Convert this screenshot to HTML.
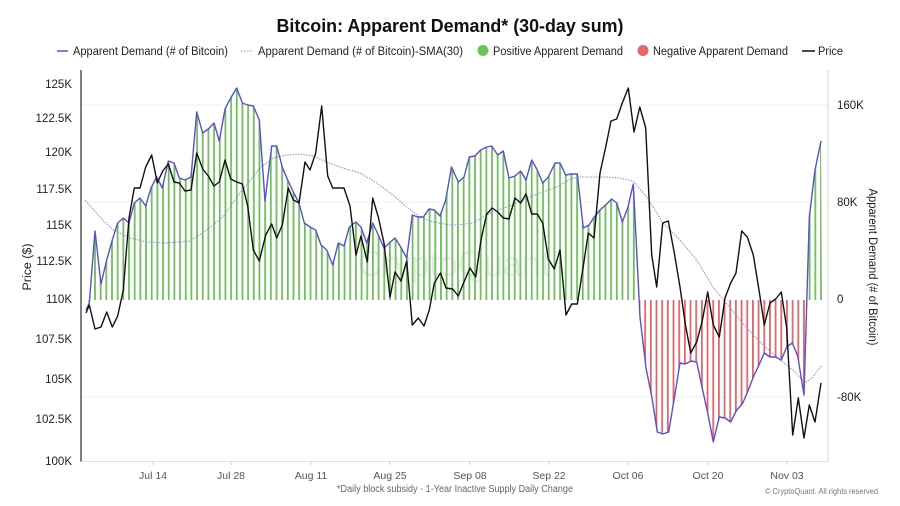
<!DOCTYPE html>
<html><head><meta charset="utf-8"><style>
html,body{margin:0;padding:0;background:#fff;}
svg{display:block;font-family:"Liberation Sans",Arial,sans-serif;}
</style></head><body>
<svg width="900" height="506" viewBox="0 0 900 506" xmlns="http://www.w3.org/2000/svg">
<defs>
<pattern id="pg" patternUnits="userSpaceOnUse" x="88.4" y="0" width="5.672" height="20"><rect x="0" y="0" width="1.8" height="20" fill="#6fbf5c"/></pattern>
<pattern id="pr" patternUnits="userSpaceOnUse" x="88.4" y="0" width="5.672" height="20"><rect x="0" y="0" width="1.8" height="20" fill="#e0676a"/></pattern>
<clipPath id="cpos"><rect x="80" y="60" width="750" height="240"/></clipPath>
<clipPath id="cneg"><rect x="80" y="300" width="750" height="170"/></clipPath>
</defs>
<rect width="900" height="506" fill="#fff"/>

<!-- Title -->
<text x="450" y="32" text-anchor="middle" font-size="18" font-weight="bold" fill="#111" textLength="347" lengthAdjust="spacingAndGlyphs">Bitcoin: Apparent Demand* (30-day sum)</text>

<!-- Legend -->
<g font-size="11.5" fill="#222">
<line x1="57" y1="51" x2="68" y2="51" stroke="#5a4fcf" stroke-width="1.5"/>
<text x="73" y="55" textLength="155" lengthAdjust="spacingAndGlyphs">Apparent Demand (# of Bitcoin)</text>
<line x1="241" y1="51" x2="253" y2="51" stroke="#8a86e0" stroke-width="1" stroke-dasharray="1.5 1.5"/>
<text x="258" y="55" textLength="205" lengthAdjust="spacingAndGlyphs">Apparent Demand (# of Bitcoin)-SMA(30)</text>
<circle cx="483" cy="50.5" r="5.5" fill="#6cc25a"/>
<text x="493" y="55" textLength="130" lengthAdjust="spacingAndGlyphs">Positive Apparent Demand</text>
<circle cx="643" cy="50.5" r="5.5" fill="#e46a6a"/>
<text x="653" y="55" textLength="135" lengthAdjust="spacingAndGlyphs">Negative Apparent Demand</text>
<line x1="802" y1="51" x2="815" y2="51" stroke="#111" stroke-width="1.5"/>
<text x="818" y="55" textLength="25" lengthAdjust="spacingAndGlyphs">Price</text>
</g>

<!-- Gridlines -->
<g stroke="#f1f1f1" stroke-width="1">
<line x1="82" y1="105" x2="828" y2="105"/>
<line x1="82" y1="202" x2="828" y2="202"/>
<line x1="82" y1="397" x2="828" y2="397"/>
</g>

<!-- Watermark -->
<text x="358" y="276" font-size="36" fill="#e9e9e9" textLength="192" lengthAdjust="spacingAndGlyphs">CryptoQuant</text>

<!-- Bars via pattern fill -->
<g id="areas">
<polygon clip-path="url(#cpos)" fill="url(#pg)" points="86,300 86,310 89.3,303 95,231 101,284 106.7,260 112.3,240 117.7,223 123.3,218 129,223 134.3,203 140,198 145.7,206 151,188 156.7,177 162.3,188 168.3,161 174,163 179.3,178 185,180 191,177 196.7,112 202.7,133 208.3,129 214,123 219.3,141 225,109 230.7,98 236.7,88 242.3,103 247.7,105 253.3,106 259.3,120 265,201 271.7,146 276.7,146 282.3,167 287.7,180 293.3,192 299,203 304.3,223 310,227 315.7,230 321,245 326.7,250 332.7,265 338.3,243 344,246 349.3,227 355.7,222 361,227 366.7,243 372.7,223 378.3,235 384,248 389.3,243 395,238 400.7,247 406.7,258 412.3,215 417.7,217 423.3,217 429,209 434.3,210 440,216 445.7,200 451.5,167 458.3,182 464,177 469.3,157 475,156 480.7,150 486.7,147 491.7,146 497.7,155 503.3,151 509,178 515,176 520.7,171 526,180 531.7,160 537.3,170 542.7,183 548.3,177 555,163 560,163 565.7,175 571,174 577.3,174 583.3,228 589,225 594.3,217 600,210 605.7,205 611.7,199 616.7,203 622.3,222 627.7,208 633.3,184 640,317 646,368 652,398 657.3,432 662.7,434 668.7,432 674,400 680,363 685.3,364 691,361 696.7,362 702,387 707.7,413 713.3,442 719.3,417 725,418 730.7,422 736.7,410 742.3,404 748,391 753.3,377 759,365 764.3,353 770,357 775.7,357 781.3,360 786.7,347 792.3,343 797.7,356 804,395 809.3,217 815,170 821,141 822,300"/>
<polygon clip-path="url(#cneg)" fill="url(#pr)" points="86,300 86,310 89.3,303 95,231 101,284 106.7,260 112.3,240 117.7,223 123.3,218 129,223 134.3,203 140,198 145.7,206 151,188 156.7,177 162.3,188 168.3,161 174,163 179.3,178 185,180 191,177 196.7,112 202.7,133 208.3,129 214,123 219.3,141 225,109 230.7,98 236.7,88 242.3,103 247.7,105 253.3,106 259.3,120 265,201 271.7,146 276.7,146 282.3,167 287.7,180 293.3,192 299,203 304.3,223 310,227 315.7,230 321,245 326.7,250 332.7,265 338.3,243 344,246 349.3,227 355.7,222 361,227 366.7,243 372.7,223 378.3,235 384,248 389.3,243 395,238 400.7,247 406.7,258 412.3,215 417.7,217 423.3,217 429,209 434.3,210 440,216 445.7,200 451.5,167 458.3,182 464,177 469.3,157 475,156 480.7,150 486.7,147 491.7,146 497.7,155 503.3,151 509,178 515,176 520.7,171 526,180 531.7,160 537.3,170 542.7,183 548.3,177 555,163 560,163 565.7,175 571,174 577.3,174 583.3,228 589,225 594.3,217 600,210 605.7,205 611.7,199 616.7,203 622.3,222 627.7,208 633.3,184 640,317 646,368 652,398 657.3,432 662.7,434 668.7,432 674,400 680,363 685.3,364 691,361 696.7,362 702,387 707.7,413 713.3,442 719.3,417 725,418 730.7,422 736.7,410 742.3,404 748,391 753.3,377 759,365 764.3,353 770,357 775.7,357 781.3,360 786.7,347 792.3,343 797.7,356 804,395 809.3,217 815,170 821,141 822,300"/>
</g>

<!-- Axes -->
<line x1="81" y1="70" x2="81" y2="462" stroke="#555" stroke-width="1.5"/>
<line x1="828" y1="70" x2="828" y2="462" stroke="#d4d4d4" stroke-width="1"/>
<line x1="81" y1="461.5" x2="828" y2="461.5" stroke="#e2e2e2" stroke-width="1"/>
<g stroke="#d0d0d0" stroke-width="1">
<line x1="153" y1="461" x2="153" y2="465"/>
<line x1="231" y1="461" x2="231" y2="465"/>
<line x1="311" y1="461" x2="311" y2="465"/>
<line x1="390" y1="461" x2="390" y2="465"/>
<line x1="470" y1="461" x2="470" y2="465"/>
<line x1="549" y1="461" x2="549" y2="465"/>
<line x1="628" y1="461" x2="628" y2="465"/>
<line x1="708" y1="461" x2="708" y2="465"/>
<line x1="787" y1="461" x2="787" y2="465"/>
</g>

<!-- SMA -->
<polyline fill="none" stroke="#8a86e0" stroke-width="1" stroke-dasharray="1.5 1.2" points="85,200 100,217 113,230 130,238 146.7,242 166.7,243 190,241 206.7,230 223,217 240,193 253,177 260,168 273,158 286.7,155 300,154 313,156 326.7,162 343,168 360,173 376.7,183 393,195 406.7,207 420,217 433,222 450,225 456.7,225 473,223 490,213 506.7,207 523,200 540,193 556.7,187 573,178 580,177 606.7,177 620,178 633,181 646.7,197 663,223 680,240 696.7,260 713,287 730,308 746.7,328 763,345 780,360 793,370 805,383 813,377 821.7,365"/>

<!-- Demand line -->
<polyline fill="none" stroke="#5a4fcf" stroke-width="1.4" stroke-linejoin="round" points="86,310 89.3,303 95,231 101,284 106.7,260 112.3,240 117.7,223 123.3,218 129,223 134.3,203 140,198 145.7,206 151,188 156.7,177 162.3,188 168.3,161 174,163 179.3,178 185,180 191,177 196.7,112 202.7,133 208.3,129 214,123 219.3,141 225,109 230.7,98 236.7,88 242.3,103 247.7,105 253.3,106 259.3,120 265,201 271.7,146 276.7,146 282.3,167 287.7,180 293.3,192 299,203 304.3,223 310,227 315.7,230 321,245 326.7,250 332.7,265 338.3,243 344,246 349.3,227 355.7,222 361,227 366.7,243 372.7,223 378.3,235 384,248 389.3,243 395,238 400.7,247 406.7,258 412.3,215 417.7,217 423.3,217 429,209 434.3,210 440,216 445.7,200 451.5,167 458.3,182 464,177 469.3,157 475,156 480.7,150 486.7,147 491.7,146 497.7,155 503.3,151 509,178 515,176 520.7,171 526,180 531.7,160 537.3,170 542.7,183 548.3,177 555,163 560,163 565.7,175 571,174 577.3,174 583.3,228 589,225 594.3,217 600,210 605.7,205 611.7,199 616.7,203 622.3,222 627.7,208 633.3,184 640,317 646,368 652,398 657.3,432 662.7,434 668.7,432 674,400 680,363 685.3,364 691,361 696.7,362 702,387 707.7,413 713.3,442 719.3,417 725,418 730.7,422 736.7,410 742.3,404 748,391 753.3,377 759,365 764.3,353 770,357 775.7,357 781.3,360 786.7,347 792.3,343 797.7,356 804,395 809.3,217 815,170 821,141"/>

<!-- Price line -->
<polyline fill="none" stroke="#111" stroke-width="1.4" stroke-linejoin="round" points="86,313 89.3,305 95,329 101,327 106.7,312 112.3,327 117.7,316 123.3,290 129,218 134.3,188 140,188 145.7,167 151.7,155 157.3,183 162.7,171 168.3,164 174,182 179.3,183 185,191 191,190 196.7,153 202.7,169 208.3,176 214,186 219.3,182 225,160 230.7,179 236.7,182 242.3,184 247.7,206 253.3,250 259.3,261 265.7,235 271.7,224 276.7,238 282.3,225 288.3,188 293.3,200 299,203 305,162 310,170 315.7,153 321.7,106 327.7,176 332.7,188 338.3,188 344,188 350,206 356,255 361,236 367.3,262 372.7,198 378.3,217 384,243 390,297 395,272 401,281 406.7,261 412.3,325 418.3,318 424,326 429.3,310 434.3,283 440.5,273 446,288 452.7,289 458.3,296 464,282 470,268 475.7,277 481,240 486.7,214 492.3,208 497.7,212 503.3,218 509,219 515,198 520.7,203 526,194 531.7,214 537.3,214 542.7,223 548.3,259 554.3,269 560,250 566,315 571.7,304 577.3,304 582.7,270 588.3,233 594,238 600,173 605.7,147 611,121 616.7,119 622.3,103 628.3,88 634,132 639.8,107 645.7,128 651.7,255 656.7,287 662.7,223 668.3,221 674.3,253 680,287 685.3,324 690.7,353 696.7,342 702,322 707.7,292 713.3,325 719.3,337 725,298 730.7,283 736,273 741.7,231 747.3,237 753.3,255 759,290 764.3,325 770,303 775.7,299 781.3,292 786.7,328 792.7,435 798.3,398 804,438 809.3,405 815,422 821,383"/>

<!-- Left axis labels -->
<g font-size="11.5" fill="#222" text-anchor="end">
<text x="72" y="88">125K</text>
<text x="72" y="122">122.5K</text>
<text x="72" y="156">120K</text>
<text x="72" y="193">117.5K</text>
<text x="72" y="229">115K</text>
<text x="72" y="265">112.5K</text>
<text x="72" y="303">110K</text>
<text x="72" y="343">107.5K</text>
<text x="72" y="383">105K</text>
<text x="72" y="423">102.5K</text>
<text x="72" y="465">100K</text>
</g>

<!-- Right axis labels -->
<g font-size="11.5" fill="#222">
<text x="837" y="109">160K</text>
<text x="837" y="206">80K</text>
<text x="837" y="303">0</text>
<text x="837" y="401">-80K</text>
</g>

<!-- Axis titles -->
<text transform="translate(31,267) rotate(-90)" text-anchor="middle" font-size="11.5" fill="#222" textLength="47" lengthAdjust="spacingAndGlyphs">Price ($)</text>
<text transform="translate(869,267) rotate(90)" text-anchor="middle" font-size="11.5" fill="#222" textLength="157" lengthAdjust="spacingAndGlyphs">Apparent Demand (# of Bitcoin)</text>

<!-- X labels -->
<g font-size="10.5" fill="#555" text-anchor="middle">
<text x="153" y="479">Jul 14</text>
<text x="231" y="479">Jul 28</text>
<text x="311" y="479">Aug 11</text>
<text x="390" y="479">Aug 25</text>
<text x="470" y="479">Sep 08</text>
<text x="549" y="479">Sep 22</text>
<text x="628" y="479">Oct 06</text>
<text x="708" y="479">Oct 20</text>
<text x="787" y="479">Nov 03</text>
</g>

<!-- Footnotes -->
<text x="337" y="492" font-size="10" fill="#666" textLength="236" lengthAdjust="spacingAndGlyphs">*Daily block subsidy - 1-Year Inactive Supply Daily Change</text>
<text x="765" y="494" font-size="8.5" fill="#777" textLength="113" lengthAdjust="spacingAndGlyphs">© CryptoQuant. All rights reserved</text>
</svg>
</body></html>
